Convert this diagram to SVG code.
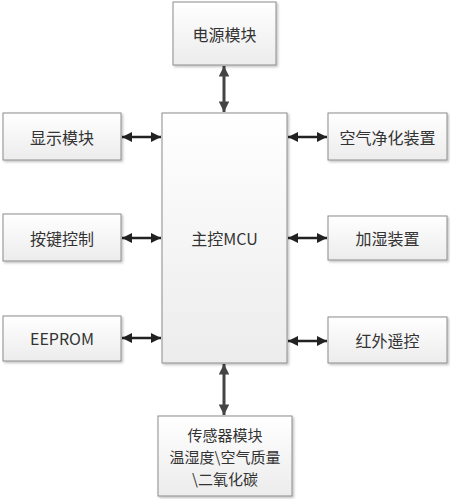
<svg xmlns="http://www.w3.org/2000/svg" width="450" height="499" viewBox="0 0 450 499">
<defs>
<linearGradient id="g" x1="0" y1="0" x2="0" y2="1">
<stop offset="0" stop-color="#ffffff"/>
<stop offset="1" stop-color="#ececec"/>
</linearGradient>
<filter id="sh" x="-10%" y="-10%" width="130%" height="130%">
<feDropShadow dx="1.5" dy="1.5" stdDeviation="1" flood-color="#000" flood-opacity="0.25"/>
</filter>
<marker id="ah" viewBox="0 0 10 10" refX="10" refY="5" markerWidth="4" markerHeight="4" orient="auto-start-reverse" markerUnits="strokeWidth">
<path d="M0,0 L10,5 L0,10 Z" fill="#222"/>
</marker>
<marker id="av" viewBox="0 0 10 10" refX="10" refY="5" markerWidth="4" markerHeight="3.5" orient="auto-start-reverse" markerUnits="strokeWidth">
<path d="M0,0 L10,5 L0,10 Z" fill="#444"/>
</marker>
</defs>
<style>
.box{fill:url(#g);stroke:#8c8c8c;stroke-width:1;filter:url(#sh)}
.t{font-family:"Noto Sans CJK SC","Liberation Sans",sans-serif;font-size:16px;fill:#333;text-anchor:middle;dominant-baseline:central}
.s{font-size:15px}
.h{stroke:#222;stroke-width:2.5;fill:none;marker-start:url(#ah);marker-end:url(#ah)}
.v{stroke:#444;stroke-width:3;fill:none;marker-start:url(#av);marker-end:url(#av)}
</style>
<g id="connectors">
<line class="v" x1="224" y1="66" x2="224" y2="112"/>
<line class="v" x1="224" y1="364" x2="224" y2="415"/>
<line class="h" x1="122" y1="137" x2="161" y2="137"/>
<line class="h" x1="122" y1="238" x2="161" y2="238"/>
<line class="h" x1="122" y1="338" x2="161" y2="338"/>
<line class="h" x1="288" y1="137" x2="327" y2="137"/>
<line class="h" x1="288" y1="238" x2="327" y2="238"/>
<line class="h" x1="288" y1="341" x2="327" y2="341"/>
</g>
<g id="power"><rect class="box" x="173" y="2" width="103" height="63"/><text class="t" x="224.5" y="34">电源模块</text></g>
<g id="mcu"><rect class="box" x="162" y="113" width="125" height="250"/><text class="t" x="224.5" y="238">主控MCU</text></g>
<g id="display"><rect class="box" x="3" y="113" width="118" height="47"/><text class="t" x="62" y="136.5">显示模块</text></g>
<g id="keys"><rect class="box" x="3" y="214" width="118" height="47"/><text class="t" x="62" y="237.5">按键控制</text></g>
<g id="eeprom"><rect class="box" x="3" y="316" width="118" height="45"/><text class="t" x="62" y="338">EEPROM</text></g>
<g id="purify"><rect class="box" x="328" y="113" width="119" height="47"/><text class="t" x="387.5" y="136.5">空气净化装置</text></g>
<g id="humid"><rect class="box" x="328" y="216" width="119" height="44"/><text class="t" x="387.5" y="238">加湿装置</text></g>
<g id="ir"><rect class="box" x="328" y="317" width="119" height="46"/><text class="t" x="387.5" y="340">红外遥控</text></g>
<g id="sensor"><rect class="box" x="158" y="416" width="134" height="80"/>
<text class="t s" x="225" y="434">传感器模块</text>
<text class="t s" x="225" y="456">温湿度\空气质量</text>
<text class="t s" x="225" y="478">\二氧化碳</text></g>
</svg>
